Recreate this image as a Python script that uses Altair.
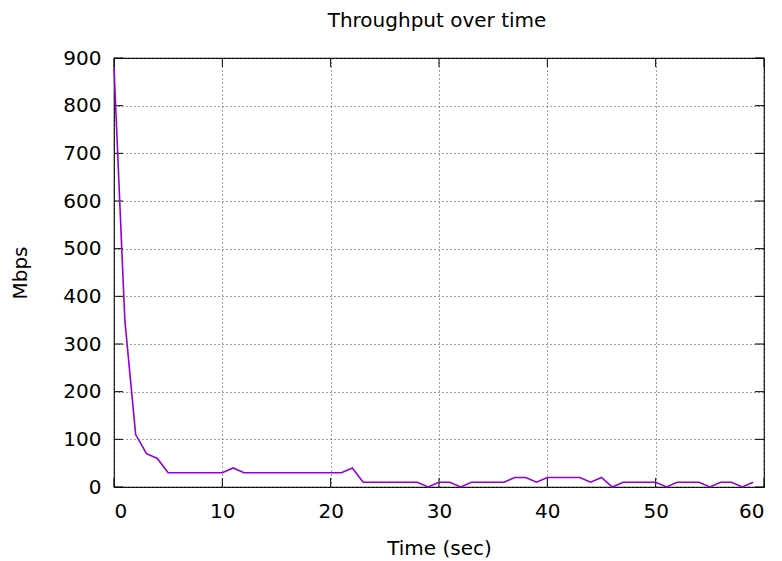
import altair as alt
import pandas as pd

time_sec = list(range(60))
mbps = [880, 350, 110, 70, 60, 30, 30, 30, 30, 30,
        30, 40, 30, 30, 30, 30, 30, 30, 30, 30,
        30, 30, 40, 10, 10, 10, 10, 10, 10, 0,
        10, 10, 0, 10, 10, 10, 10, 20, 20, 10,
        20, 20, 20, 20, 10, 20, 0, 10, 10, 10,
        10, 0, 10, 10, 10, 0, 10, 10, 0, 10]
x_ticks = [0, 10, 20, 30, 40, 50, 60]
y_ticks = [0, 100, 200, 300, 400, 500, 600, 700, 800, 900]

W, H = 650, 429
TL = 9
FONT = "DejaVu Sans"
FS = 20

df = pd.DataFrame({"t": time_sec, "v": mbps})
xt = pd.DataFrame({"xt": x_ticks})
yt = pd.DataFrame({"yt": y_ticks})

xscale = alt.Scale(domain=[0, 60], nice=False)
yscale = alt.Scale(domain=[0, 900], nice=False)

line = alt.Chart(df).mark_line(color="#9400d3", strokeWidth=1.6).encode(
    x=alt.X("t:Q", scale=xscale,
            axis=alt.Axis(values=x_ticks, title="Time (sec)", grid=True,
                          gridDash=[1, 3], gridColor="#444", gridWidth=1,
                          ticks=False, domain=False, labelPadding=14,
                          titlePadding=17)),
    y=alt.Y("v:Q", scale=yscale,
            axis=alt.Axis(values=y_ticks, title="Mbps", grid=True,
                          gridDash=[1, 3], gridColor="#444", gridWidth=1,
                          ticks=False, domain=False, labelPadding=13,
                          titlePadding=32)),
)

xb = alt.Chart(xt).mark_rule(color="black", strokeWidth=1).encode(
    x=alt.X("xt:Q", scale=xscale), y=alt.value(H), y2=alt.value(H - TL))
xtop = alt.Chart(xt).mark_rule(color="black", strokeWidth=1).encode(
    x=alt.X("xt:Q", scale=xscale), y=alt.value(0), y2=alt.value(TL))
yl = alt.Chart(yt).mark_rule(color="black", strokeWidth=1).encode(
    y=alt.Y("yt:Q", scale=yscale), x=alt.value(0), x2=alt.value(TL))
yr = alt.Chart(yt).mark_rule(color="black", strokeWidth=1).encode(
    y=alt.Y("yt:Q", scale=yscale), x=alt.value(W), x2=alt.value(W - TL))

chart = alt.layer(xb, xtop, yl, yr, line).properties(
    width=W, height=H,
    title=alt.TitleParams("Throughput over time", font=FONT, fontSize=FS,
                          fontWeight="normal", color="black", offset=17,
                          dx=-2),
    autosize=alt.AutoSizeParams(type="none"),
    padding={"left": 106, "top": 50, "right": 10, "bottom": 74},
).configure_view(stroke="black", strokeWidth=1.2).configure_axis(
    labelFont=FONT, labelFontSize=FS, labelColor="black",
    titleFont=FONT, titleFontSize=FS, titleFontWeight="normal",
    titleColor="black",
)

chart.save("out.html", embed_options={"renderer": "svg", "actions": False})
